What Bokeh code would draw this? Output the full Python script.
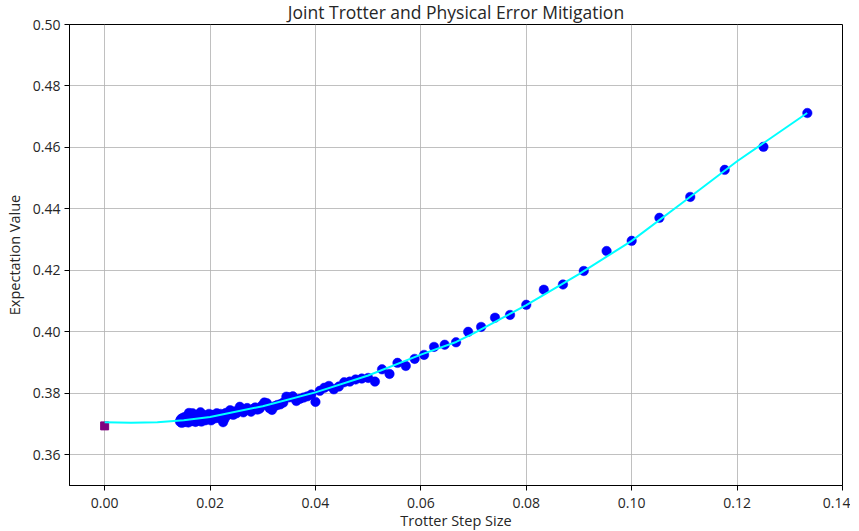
from bokeh.plotting import figure
from bokeh.models import Range1d, FixedTicker, NumeralTickFormatter
from bokeh.embed import file_html
from bokeh.resources import INLINE

# Trotter step sizes (2 / number of steps) and measured expectation values
step_size = [
    0.13333, 0.125, 0.11765, 0.11111, 0.10526, 0.1, 0.09524, 0.09091, 0.08696, 0.08333,
    0.08, 0.07692, 0.07407, 0.07143, 0.06897, 0.06667, 0.06452, 0.0625, 0.06061, 0.05882,
    0.05714, 0.05556, 0.05405, 0.05263, 0.05128, 0.05, 0.04878, 0.04762, 0.04651, 0.04545,
    0.04444, 0.04348, 0.04255, 0.04167, 0.04082, 0.04, 0.03922, 0.03846, 0.03774, 0.03704,
    0.03636, 0.03571, 0.03509, 0.03448, 0.0339, 0.03333, 0.03279, 0.03226, 0.03175, 0.03125,
    0.03077, 0.0303, 0.02985, 0.02941, 0.02899, 0.02857, 0.02817, 0.02778, 0.0274, 0.02703,
    0.02667, 0.02632, 0.02597, 0.02564, 0.02532, 0.025, 0.02469, 0.02439, 0.0241, 0.02381,
    0.02353, 0.02326, 0.02299, 0.02273, 0.02247, 0.02222, 0.02198, 0.02174, 0.02151, 0.02128,
    0.02105, 0.02083, 0.02062, 0.02041, 0.0202, 0.02, 0.0198, 0.01961, 0.01942, 0.01923,
    0.01905, 0.01887, 0.01869, 0.01852, 0.01835, 0.01818, 0.01802, 0.01786, 0.0177, 0.01754,
    0.01739, 0.01724, 0.01709, 0.01695, 0.01681, 0.01667, 0.01653, 0.01639, 0.01626, 0.01613,
    0.016, 0.01587, 0.01575, 0.01563, 0.0155, 0.01538, 0.01527, 0.01515, 0.01504, 0.01493,
    0.01481, 0.01471, 0.0146, 0.01449, 0.01439, 0.01429,
]
expectation = [
    0.4712, 0.4602, 0.4527, 0.4439, 0.4371, 0.4296, 0.4263, 0.4198, 0.4154, 0.4137,
    0.4088, 0.4055, 0.4046, 0.4016, 0.4000, 0.3966, 0.3958, 0.3951, 0.3925, 0.3912,
    0.3889, 0.3899, 0.3863, 0.3878, 0.3838, 0.3850, 0.3848, 0.3845, 0.3838, 0.3836,
    0.3822, 0.3813, 0.3824, 0.3818, 0.3808, 0.3772, 0.3796, 0.3790, 0.3786, 0.3782,
    0.3775, 0.3790, 0.3787, 0.3789, 0.3770, 0.3764, 0.3762, 0.3758, 0.3746, 0.3752,
    0.3768, 0.3770, 0.3760, 0.3750, 0.3747, 0.3754, 0.3749, 0.3740, 0.3745, 0.3752,
    0.3744, 0.3738, 0.3750, 0.3756, 0.3742, 0.3735, 0.3741, 0.3730, 0.3738, 0.3745,
    0.3733, 0.3728, 0.3736, 0.3716, 0.3706, 0.3725, 0.3733, 0.3728, 0.3720, 0.3735,
    0.3726, 0.3718, 0.3730, 0.3722, 0.3712, 0.3727, 0.3733, 0.3720, 0.3715, 0.3725,
    0.3712, 0.3722, 0.3730, 0.3716, 0.3708, 0.3738, 0.3726, 0.3713, 0.3718, 0.3730,
    0.3722, 0.3707, 0.3716, 0.3724, 0.3712, 0.3735, 0.3720, 0.3709, 0.3717, 0.3728,
    0.3736, 0.3705, 0.3720, 0.3726, 0.3714, 0.3708, 0.3718, 0.3722, 0.3706, 0.3713,
    0.3720, 0.3710, 0.3704, 0.3716, 0.3712, 0.3708,
]

# Fitted curve
fit_x = [0.0, 0.005, 0.01, 0.015, 0.02, 0.03, 0.04, 0.05, 0.06, 0.0667, 0.07,
         0.08, 0.09, 0.10, 0.11, 0.12, 0.1333]
fit_y = [0.3706, 0.3704, 0.3706, 0.3712, 0.3723, 0.3758, 0.3803, 0.3858, 0.3926, 0.3967, 0.3995,
         0.4087, 0.4188, 0.4296, 0.4425, 0.4555, 0.4712]

# Extrapolated zero-step value
zero_x = [0.0]
zero_y = [0.3694]

x_ticks = [0.0, 0.02, 0.04, 0.06, 0.08, 0.10, 0.12, 0.14]
y_ticks = [0.36, 0.38, 0.40, 0.42, 0.44, 0.46, 0.48, 0.50]

TITLE = "Joint Trotter and Physical Error Mitigation"
FONT = "Open Sans"

p = figure(
    width=850, height=530,
    frame_width=773, frame_height=461,
    x_range=Range1d(-0.00667, 0.14), y_range=Range1d(0.35, 0.50),
    output_backend="svg", toolbar_location=None,
    title=TITLE,
    min_border_left=69, min_border_right=8, min_border_top=24, min_border_bottom=45,
)
p.background_fill_color = "white"
p.border_fill_color = "white"
p.outline_line_color = "black"
p.outline_line_width = 1
p.outline_line_alpha = 1.0

p.title.text_font = FONT
p.title.text_font_size = "17.5px"
p.title.text_font_style = "normal"
p.title.text_color = "#262626"
p.title.align = "center"
p.title.vertical_align = "top"
p.title.standoff = -2

for ax, ticks in ((p.xaxis, x_ticks), (p.yaxis, y_ticks)):
    ax.ticker = FixedTicker(ticks=ticks)
    ax.formatter = NumeralTickFormatter(format="0.00")
    ax.minor_tick_line_color = None
    ax.major_tick_in = 0
    ax.major_tick_out = 5
    ax.major_tick_line_color = "black"
    ax.axis_line_color = "black"
    ax.major_label_text_font = FONT
    ax.major_label_text_font_size = "14px"
    ax.major_label_text_color = "#262626"
    ax.axis_label_text_font = FONT
    ax.axis_label_text_font_size = "14.5px"
    ax.axis_label_text_font_style = "normal"
    ax.axis_label_text_color = "#262626"

p.xaxis.major_label_standoff = 7
p.yaxis.major_label_standoff = 4
p.xaxis.axis_label = "Trotter Step Size"
p.yaxis.axis_label = "Expectation Value"
p.xaxis.axis_label_standoff = 0
p.yaxis.axis_label_standoff = 6

p.grid.grid_line_color = "#b0b0b0"
p.grid.grid_line_alpha = 0.8
p.grid.grid_line_width = 1

p.scatter(step_size, expectation, size=9.5, marker="circle",
          fill_color="#0000ff", line_color="#0000ff", line_width=0.5)
p.scatter(zero_x, zero_y, size=8, marker="square",
          fill_color="#800080", line_color="#800080")
p.line(fit_x, fit_y, line_color="#00ffff", line_width=2)

open("out.html", "w").write(file_html(p, INLINE))
